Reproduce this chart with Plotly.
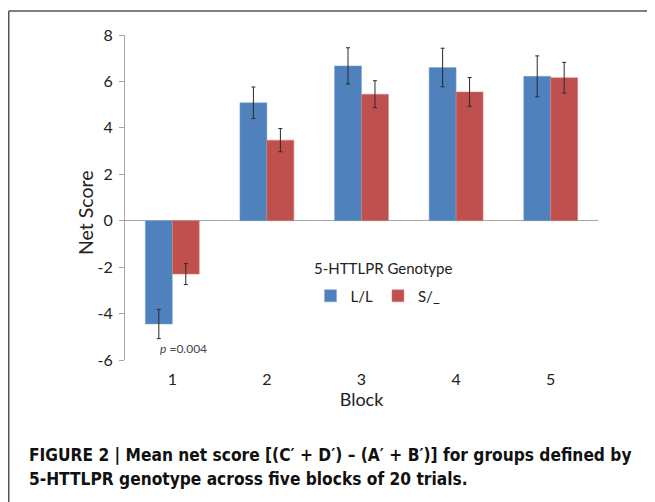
import plotly.graph_objects as go

blocks = ["1", "2", "3", "4", "5"]
ll_values = [-4.45, 5.08, 6.67, 6.60, 6.22]
ll_errors = [0.63, 0.68, 0.78, 0.83, 0.88]
s_values = [-2.30, 3.47, 5.45, 5.55, 6.16]
s_errors = [0.45, 0.50, 0.58, 0.62, 0.66]
y_ticks = [-6, -4, -2, 0, 2, 4, 6, 8]
y_tick_labels = ["-6", "-4", "-2", "0", "2", "4", "6", "8"]

# page body has an 8px default margin; work in reference pixel coords
OFF = 8
W, H = 655 - OFF, 502 - OFF
L, R, T, B = 125 - OFF, 57, 35 - OFF, 142
pw, ph = W - L - R, H - T - B

def px(x):
    return (x - OFF - L) / pw

def py(y):
    return (H - B - (y - OFF)) / ph

FONT = "Lato, 'Open Sans', sans-serif"
err_style = dict(type="data", thickness=1, width=2, color="#2a2a2a")

fig = go.Figure()
fig.add_trace(go.Bar(
    x=blocks, y=ll_values, name="L/L",
    marker=dict(color="#4F81BD", line=dict(width=0.5, color="#7FA3D0")),
    error_y=dict(array=ll_errors, **err_style),
))
fig.add_trace(go.Bar(
    x=blocks, y=s_values, name="S/_",
    marker=dict(color="#C0504D", line=dict(width=0.5, color="#D58381")),
    error_y=dict(array=s_errors, **err_style),
))

fig.update_layout(
    width=W, height=H,
    margin=dict(l=L, r=R, t=T, b=B, pad=0, autoexpand=False),
    paper_bgcolor="white", plot_bgcolor="white",
    barmode="group", bargap=0.43, bargroupgap=0,
    font=dict(family=FONT, color="#222222"),
    showlegend=True,
    legend=dict(orientation="h", x=px(378), y=py(296), xanchor="center", yanchor="middle",
                font=dict(size=15, family=FONT), bgcolor="rgba(0,0,0,0)",
                itemwidth=30, traceorder="normal"),
    xaxis=dict(showline=False, showgrid=False, zeroline=False, ticks="", automargin=False,
               ticklabelstandoff=8,
               tickfont=dict(size=16), title=dict(text="Block", font=dict(size=18), standoff=4)),
    yaxis=dict(range=[-6, 8], tickvals=y_ticks, ticktext=y_tick_labels, showgrid=False,
               automargin=False,
               zeroline=True, zerolinecolor="#A6A6A6", zerolinewidth=1,
               showline=True, linecolor="#A6A6A6", linewidth=1,
               ticks="outside", ticklen=5, tickcolor="#A6A6A6",
               ticklabelstandoff=3,
               tickfont=dict(size=16)),
)

fig.add_annotation(x=px(85), y=py(213), xref="paper", yref="paper",
                   xanchor="center", yanchor="middle", textangle=-90,
                   text="Net Score", showarrow=False,
                   font=dict(size=19.5, family=FONT, color="#222222"))
fig.add_annotation(x=px(383), y=py(268), xref="paper", yref="paper",
                   xanchor="center", yanchor="middle",
                   text="5-HTTLPR Genotype", showarrow=False,
                   font=dict(size=15, family=FONT, color="#222222"))
fig.add_annotation(x=px(183), y=py(348), xref="paper", yref="paper",
                   xanchor="center", yanchor="middle",
                   text="<i>p</i> =0.004", showarrow=False,
                   font=dict(size=12, family=FONT, color="#444444"))

cap_font = dict(size=17.2, family="'DejaVu Sans Condensed', Arial, sans-serif",
                color="#111111")
fig.add_annotation(x=px(27), y=py(455), xref="paper", yref="paper",
                   xanchor="left", yanchor="middle",
                   text="<b>FIGURE 2 | Mean net score [(C′ + D′) – (A′ + B′)] for groups defined by</b>",
                   showarrow=False, font=cap_font)
fig.add_annotation(x=px(27), y=py(479), xref="paper", yref="paper",
                   xanchor="left", yanchor="middle",
                   text="<b>5-HTTLPR genotype across five blocks of 20 trials.</b>",
                   showarrow=False, font=cap_font)

frame = dict(color="#555555", width=1.5)
fig.add_shape(type="line", xref="paper", yref="paper", x0=px(8.75), x1=px(660), y0=py(11), y1=py(11), line=frame)
fig.add_shape(type="line", xref="paper", yref="paper", x0=px(8.75), x1=px(8.75), y0=py(11), y1=py(510), line=frame)

fig.write_html("out.html")
